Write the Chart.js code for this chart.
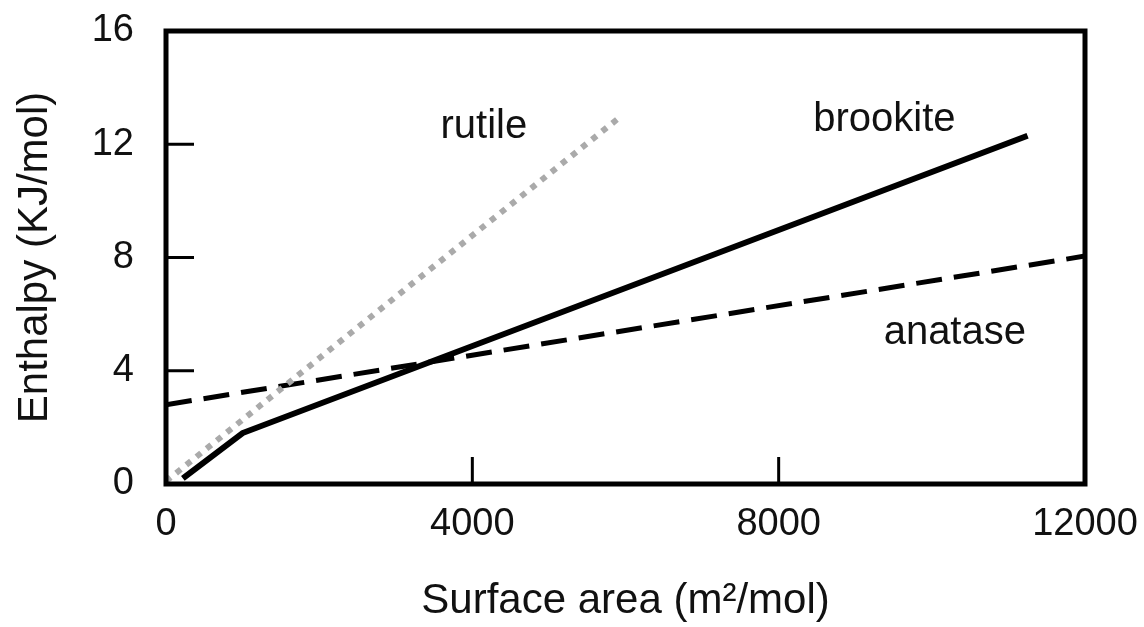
<!DOCTYPE html>
<html lang="en">
<head>
    <meta charset="UTF-8">
    <title>Enthalpy vs surface area</title>
    <script src="https://cdn.jsdelivr.net/npm/chart.js"></script>
    <style>
        html, body { margin: 0; padding: 0; background: #fff; }
        #wrap { width: 1144px; height: 627px; }
    </style>
</head>
<body>
    <div id="wrap"><canvas id="enthalpyChart"></canvas></div>

    <script>
        // data
        var rutileX = [0, 5900];
        var rutileY = [0.1, 12.9];
        var brookiteX = [220, 1000, 11250];
        var brookiteY = [0.2, 1.8, 12.3];
        var anataseX = [0, 12000];
        var anataseY = [2.8, 8.05];

        var xTicks = [0, 4000, 8000, 12000];
        var yTicks = [0, 4, 8, 12, 16];

        var FONT = "'Liberation Sans', Arial, sans-serif";

        function toPoints(xs, ys) {
            return xs.map(function (x, i) { return { x: x, y: ys[i] }; });
        }

        // frame, inner tick marks and the series names
        var framePlugin = {
            id: "frame",
            afterDraw: function (chart) {
                var ctx = chart.ctx;
                var a = chart.chartArea;
                var xs = chart.scales.x;
                var ys = chart.scales.y;
                ctx.save();
                ctx.strokeStyle = "#000";
                ctx.lineWidth = 3;
                xTicks.slice(1, -1).forEach(function (v) {
                    var px = xs.getPixelForValue(v);
                    ctx.beginPath();
                    ctx.moveTo(px, a.bottom);
                    ctx.lineTo(px, a.bottom - 27);
                    ctx.stroke();
                });
                yTicks.slice(1, -1).forEach(function (v) {
                    var py = ys.getPixelForValue(v);
                    ctx.beginPath();
                    ctx.moveTo(a.left, py);
                    ctx.lineTo(a.left + 28, py);
                    ctx.stroke();
                });
                ctx.lineWidth = 5;
                ctx.lineJoin = "miter";
                ctx.strokeRect(a.left, a.top, a.right - a.left, a.bottom - a.top);

                ctx.fillStyle = "#111";
                ctx.font = "40px " + FONT;
                ctx.textAlign = "center";
                ctx.textBaseline = "middle";
                chart.data.datasets.forEach(function (ds) {
                    var p = ds.labelAt;
                    ctx.fillText(ds.label, xs.getPixelForValue(p[0]), ys.getPixelForValue(p[1]));
                });
                ctx.restore();
            }
        };

        new Chart(document.getElementById("enthalpyChart"), {
            type: "scatter",
            data: {
                datasets: [
                    {
                        label: "rutile",
                        data: toPoints(rutileX, rutileY),
                        showLine: true,
                        borderColor: "#aaaaaa",
                        borderWidth: 6,
                        borderDash: [6, 7],
                        pointRadius: 0,
                        labelAt: [4150, 12.6]
                    },
                    {
                        label: "brookite",
                        data: toPoints(brookiteX, brookiteY),
                        showLine: true,
                        borderColor: "#000",
                        borderWidth: 6,
                        pointRadius: 0,
                        labelAt: [9380, 12.85]
                    },
                    {
                        label: "anatase",
                        data: toPoints(anataseX, anataseY),
                        showLine: true,
                        borderColor: "#000",
                        borderWidth: 5,
                        borderDash: [26, 12],
                        pointRadius: 0,
                        labelAt: [10300, 5.35]
                    }
                ]
            },
            options: {
                responsive: true,
                maintainAspectRatio: false,
                animation: false,
                layout: { padding: { top: 31, right: 59, left: 0, bottom: 0 } },
                plugins: {
                    legend: { display: false },
                    tooltip: { enabled: false }
                },
                scales: {
                    x: {
                        type: "linear",
                        min: 0,
                        max: 12000,
                        afterBuildTicks: function (scale) {
                            scale.ticks = xTicks.map(function (v) { return { value: v }; });
                        },
                        afterFit: function (scale) {
                            scale.height = 143;
                            scale.paddingLeft = 0;
                            scale.paddingRight = 0;
                        },
                        grid: { display: false, drawTicks: false },
                        border: { display: false },
                        ticks: {
                            color: "#111",
                            padding: 18,
                            maxRotation: 0,
                            font: { family: FONT, size: 38 },
                            callback: function (v) { return String(v); }
                        },
                        title: {
                            display: true,
                            text: "Surface area (m\u00b2/mol)",
                            color: "#111",
                            padding: { top: 2, bottom: 0 },
                            font: { family: FONT, size: 42 }
                        }
                    },
                    y: {
                        type: "linear",
                        min: 0,
                        max: 16,
                        afterBuildTicks: function (scale) {
                            scale.ticks = yTicks.map(function (v) { return { value: v }; });
                        },
                        afterFit: function (scale) {
                            scale.width = 166;
                            scale.paddingTop = 0;
                            scale.paddingBottom = 0;
                        },
                        grid: { display: false, drawTicks: false },
                        border: { display: false },
                        ticks: {
                            color: "#111",
                            padding: 32,
                            font: { family: FONT, size: 38 },
                            callback: function (v) { return String(v); }
                        },
                        title: {
                            display: true,
                            text: "Enthalpy (KJ/mol)",
                            color: "#111",
                            padding: { top: 10, bottom: 0 },
                            font: { family: FONT, size: 42 }
                        }
                    }
                }
            },
            plugins: [framePlugin]
        });
    </script>
</body>
</html>
